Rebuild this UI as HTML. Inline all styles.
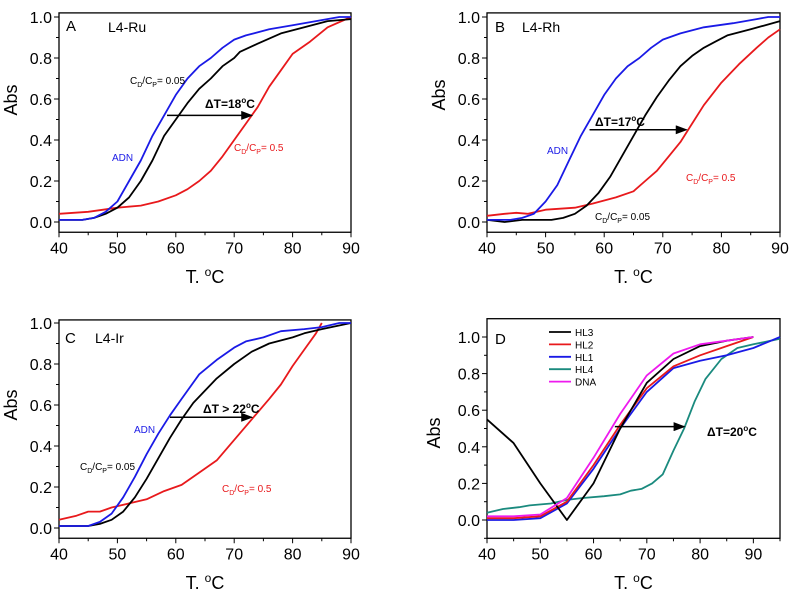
<!DOCTYPE html>
<html><head><meta charset="utf-8"><style>
body{margin:0;background:#fff}
svg{display:block;font-family:"Liberation Sans",sans-serif}
</style></head><body>
<svg id="c" width="796" height="598">
<defs><marker id="ah" markerWidth="8" markerHeight="6" refX="7" refY="3" orient="auto"><path d="M0,0 L8,3 L0,6 z" fill="#000"/></marker></defs>
</svg>
<script>
// Panel A data
const aX_blue=[40,44,46,48,50,52,54,56,58,60,62,64,66,68,70,72,76,80,84,88,90];
const aY_blue=[0.01,0.01,0.02,0.05,0.1,0.2,0.3,0.42,0.52,0.62,0.7,0.76,0.8,0.85,0.89,0.91,0.94,0.96,0.98,1.0,1.0];
const aX_black=[40,44,46,48,50,52,54,56,58,60,62,64,66,68,70,71,74,78,82,86,90];
const aY_black=[0.01,0.01,0.02,0.04,0.07,0.12,0.2,0.3,0.42,0.5,0.58,0.65,0.7,0.76,0.8,0.83,0.87,0.92,0.95,0.98,0.99];
const aX_red=[40,45,50,54,57,60,62,64,66,68,70,72,74,76,78,80,83,86,90];
const aY_red=[0.04,0.05,0.07,0.08,0.1,0.13,0.16,0.2,0.25,0.32,0.4,0.48,0.56,0.66,0.74,0.82,0.88,0.95,1.0];
// Panel B data
const bX_blue=[40,44,46,48,50,52,54,56,58,60,62,64,66,68,70,73,77,82,86,88,90];
const bY_blue=[0.01,0.01,0.02,0.04,0.1,0.18,0.3,0.42,0.52,0.62,0.7,0.76,0.8,0.85,0.89,0.92,0.95,0.97,0.99,1.0,1.0];
const bX_black=[40,43,46,51,53,55,57,59,61,63,65,67,69,71,73,75,77,79,81,85,90];
const bY_black=[0.01,0.0,0.01,0.01,0.02,0.04,0.08,0.14,0.22,0.32,0.42,0.52,0.61,0.69,0.76,0.81,0.85,0.88,0.91,0.94,0.98];
const bX_red=[40,43,45,47,50,55,58,62,65,67,69,71,73,75,77,80,83,86,88,90];
const bY_red=[0.03,0.04,0.045,0.04,0.06,0.07,0.09,0.12,0.15,0.2,0.25,0.32,0.39,0.48,0.57,0.68,0.77,0.85,0.9,0.94];
// Panel C data
const cX_blue=[40,45,47,49,51,53,55,57,59,61,64,67,70,72,75,78,82,85,88,90];
const cY_blue=[0.01,0.01,0.03,0.07,0.15,0.25,0.36,0.46,0.55,0.63,0.75,0.82,0.88,0.91,0.93,0.96,0.97,0.98,1.0,1.0];
const cX_black=[40,45,47,49,51,53,55,57,59,61,63,65,67,70,73,76,80,82,85,90];
const cY_black=[0.01,0.01,0.02,0.04,0.08,0.15,0.24,0.34,0.44,0.53,0.61,0.67,0.73,0.8,0.86,0.9,0.93,0.95,0.97,1.0];
const cX_red=[40,43,45,47,49,52,55,58,61,64,67,70,73,76,78,80,82,84,85];
const cY_red=[0.04,0.06,0.08,0.08,0.1,0.12,0.14,0.18,0.21,0.27,0.33,0.43,0.53,0.63,0.7,0.79,0.87,0.95,1.0];
// Panel D data
const dX_hl3=[40,45,50,55,60,65,70,75,80,85,90];
const dY_hl3=[0.55,0.42,0.2,0.0,0.2,0.5,0.75,0.88,0.95,0.98,1.0];
const dX_hl2=[40,45,50,55,60,65,70,75,80,85,90];
const dY_hl2=[0.01,0.01,0.02,0.1,0.3,0.52,0.72,0.84,0.9,0.95,1.0];
const dX_hl1=[40,45,50,55,60,65,70,75,80,85,90,95];
const dY_hl1=[0,0,0.01,0.09,0.28,0.5,0.7,0.83,0.87,0.9,0.94,1.0];
const dX_hl4=[40,43,46,48,52,55,58,62,65,67,69,71,73,75,77,79,81,84,87,90,95];
const dY_hl4=[0.04,0.06,0.07,0.08,0.09,0.11,0.12,0.13,0.14,0.16,0.17,0.2,0.25,0.38,0.5,0.65,0.77,0.88,0.94,0.96,0.99];
const dX_dna=[40,45,50,55,60,65,70,75,80,85,90];
const dY_dna=[0.02,0.02,0.03,0.12,0.34,0.58,0.79,0.91,0.96,0.98,1.0];
const xTicksABC=[40,50,60,70,80,90];
const xTicksD=[40,50,60,70,80,90];
const yTicks=[0.0,0.2,0.4,0.6,0.8,1.0];

const svg=document.getElementById('c');
const NS='http://www.w3.org/2000/svg';
function mk(tag,attrs,parent,text){const e=document.createElementNS(NS,tag);for(const k in attrs)e.setAttribute(k,attrs[k]);if(text!==undefined)e.textContent=text;(parent||svg).appendChild(e);return e;}

function panel(p){
  const g=mk('g',{});
  
  
  const sx=v=>p.x0+(v-p.xmin)/(p.xmax-p.xmin)*(p.x1-p.x0);
  const sy=v=>p.y0-(v)*(p.y0-p.y1);
  const top=sy(p.ymax),bot=sy(p.ymin);
  const box=mk('rect',{x:p.x0,y:top,width:p.x1-p.x0,height:bot-top,fill:'none',stroke:'#000','stroke-width':1.3},g);
  
  for(let v=p.xmin;v<=p.xmax+0.01;v+=5){const major=v%10===0;mk('line',{x1:sx(v),x2:sx(v),y1:bot,y2:bot+(major?5:3),stroke:'#000'},g);}
  p.xticks.forEach(v=>{const t=mk('text',{x:sx(v),y:bot+21,'text-anchor':'middle','font-size':16},g,v);});
  for(let v=0;v<=1.001;v+=0.1){const major=Math.round(v*10)%2===0;mk('line',{x1:p.x0,x2:p.x0-(major?5:3),y1:sy(v),y2:sy(v),stroke:'#000'},g);}
  if(p.id==='d'){mk('line',{x1:p.x0,x2:p.x0-3,y1:sy(-0.1),y2:sy(-0.1),stroke:'#000'},g);}
  yTicks.forEach(v=>{const t=mk('text',{x:p.x0-7,y:sy(v)+6,'text-anchor':'end','font-size':16},g,v.toFixed(1));});
  const yt=mk('text',{x:0,y:0,transform:`translate(${p.ytx},${p.yty}) rotate(-90)`,'text-anchor':'middle','font-size':18},g,'Abs');
  
  const xt=mk('text',{x:(p.x0+p.x1)/2,y:p.xty,'text-anchor':'middle','font-size':18},g,'T. ');
  mk('tspan',{dy:-7,'font-size':12},xt,'o');mk('tspan',{dy:7},xt,'C');
  
  p.series.forEach(s=>{
    const d=s.x.map((v,i)=>(i?'L':'M')+sx(v).toFixed(1)+','+sy(s.y[i]).toFixed(1)).join(' ');
    const pl=mk('path',{d:d,fill:'none',stroke:s.c,'stroke-width':1.8,'stroke-linejoin':'round'},g);
    
  });
  const ar=mk('line',{x1:sx(p.arrow[0]),x2:sx(p.arrow[1]),y1:sy(p.arrow[2]),y2:sy(p.arrow[2]),stroke:'#000','stroke-width':1.5,'marker-end':'url(#ah)'},g);
  
  return g;
}
function lab(g,x,y,txt,col,size,name,bold){const t=mk('text',{x:x,y:y,fill:col,'font-size':size,'font-weight':bold?'bold':'normal'},g,txt);return t;}
function cratio(g,x,y,val,col,name){const t=mk('text',{x:x,y:y,fill:col,'font-size':10},g,'C');mk('tspan',{dy:3,'font-size':7},t,'D');mk('tspan',{dy:-3},t,'/C');mk('tspan',{dy:3,'font-size':7},t,'P');mk('tspan',{dy:-3},t,'= '+val);}
function dT(g,x,y,txt){const t=mk('text',{x:x,y:y,'font-size':12,'font-weight':'bold'},g,txt);mk('tspan',{dy:-5,'font-size':8},t,'o');mk('tspan',{dy:5},t,'C');}

const pa=panel({id:'a',x0:59,x1:351,xmin:40,xmax:90,y0:222,y1:17,ymin:-0.05,ymax:1.02,xticks:xTicksABC,ytx:17,yty:100,xty:283,arrow:[58.5,73,0.52],
 series:[{x:aX_red,y:aY_red,c:'#e8191c',n:'cd-cp-0.5'},{x:aX_black,y:aY_black,c:'#000',n:'cd-cp-0.05'},{x:aX_blue,y:aY_blue,c:'#1a1ae6',n:'adn'}]});
lab(pa,66,31,'A','#000',15,'panel-letter');lab(pa,108,32,'L4-Ru','#000',14,'panel-title');
cratio(pa,130,84,'0.05','#000','label-cd-cp-0.05');lab(pa,112,161,'ADN','#1a1ae6',10,'label-adn');cratio(pa,234,151,'0.5','#e8191c','label-cd-cp-0.5');
dT(pa,205,108,'ΔT=18');

const pb=panel({id:'b',x0:487,x1:780,xmin:40,xmax:90,y0:222,y1:17,ymin:-0.05,ymax:1.02,xticks:xTicksABC,ytx:445,yty:95,xty:283,arrow:[57.5,74,0.45],
 series:[{x:bX_red,y:bY_red,c:'#e8191c',n:'cd-cp-0.5'},{x:bX_black,y:bY_black,c:'#000',n:'cd-cp-0.05'},{x:bX_blue,y:bY_blue,c:'#1a1ae6',n:'adn'}]});
lab(pb,495,32,'B','#000',15,'panel-letter');lab(pb,522,32,'L4-Rh','#000',14,'panel-title');
cratio(pb,595,220,'0.05','#000','label-cd-cp-0.05');lab(pb,547,154,'ADN','#1a1ae6',10,'label-adn');cratio(pb,686,181,'0.5','#e8191c','label-cd-cp-0.5');
dT(pb,595,126,'ΔT=17');

const pc=panel({id:'c',x0:59,x1:351,xmin:40,xmax:90,y0:528,y1:323,ymin:-0.05,ymax:1.015,xticks:xTicksABC,ytx:17,yty:405,xty:589,arrow:[59,73,0.54],
 series:[{x:cX_red,y:cY_red,c:'#e8191c',n:'cd-cp-0.5'},{x:cX_black,y:cY_black,c:'#000',n:'cd-cp-0.05'},{x:cX_blue,y:cY_blue,c:'#1a1ae6',n:'adn'}]});
lab(pc,65,343,'C','#000',15,'panel-letter');lab(pc,95,343,'L4-Ir','#000',14,'panel-title');
cratio(pc,80,470,'0.05','#000','label-cd-cp-0.05');lab(pc,134,433,'ADN','#1a1ae6',10,'label-adn');cratio(pc,222,492,'0.5','#e8191c','label-cd-cp-0.5');
dT(pc,203,413,'ΔT > 22');

const pd=panel({id:'d',x0:487,x1:780,xmin:40,xmax:95,y0:520,y1:337,ymin:-0.1,ymax:1.1,xticks:xTicksD,ytx:440,yty:433,xty:589,arrow:[64,77,0.51],
 series:[{x:dX_hl4,y:dY_hl4,c:'#1a8a7e',n:'hl4'},{x:dX_hl1,y:dY_hl1,c:'#1a1ae6',n:'hl1'},{x:dX_hl2,y:dY_hl2,c:'#e8191c',n:'hl2'},{x:dX_hl3,y:dY_hl3,c:'#000',n:'hl3'},{x:dX_dna,y:dY_dna,c:'#ee1aee',n:'dna'}]});
lab(pd,495,344,'D','#000',15,'panel-letter');
dT(pd,707,436,'ΔT=20');
[['HL3','#000'],['HL2','#e8191c'],['HL1','#1a1ae6'],['HL4','#1a8a7e'],['DNA','#ee1aee']].forEach((e,i)=>{
  const y=332+i*12.4;
  const li=mk('line',{x1:549,x2:571,y1:y,y2:y,stroke:e[1],'stroke-width':1.8},pd);
  
  lab(pd,575,y+4,e[0],'#000',10,'legend-entry-'+e[0].toLowerCase());
});
</script>
</body></html>
